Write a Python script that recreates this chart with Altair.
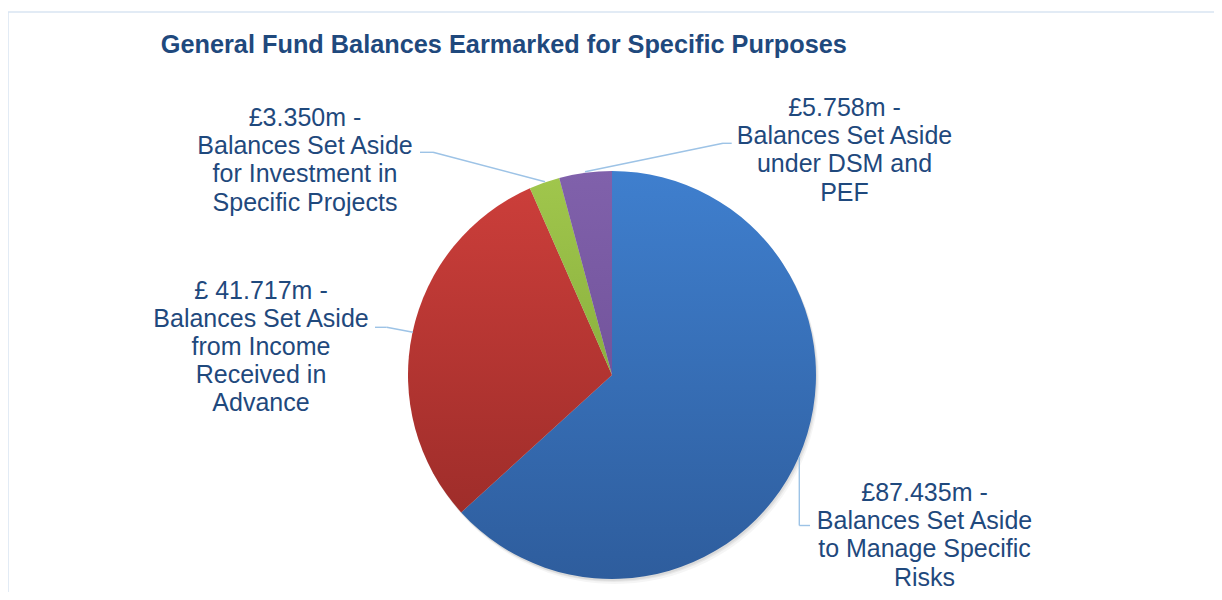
import math
import altair as alt
import pandas as pd

# ---- data ----
slice_order = [0, 1, 2, 3]
values = [87.435, 41.717, 3.350, 5.758]
value_labels = ["£87.435m -", "£ 41.717m -", "£3.350m -", "£5.758m -"]
label_lines = [
    ["Balances Set Aside", "to Manage Specific", "Risks"],
    ["Balances Set Aside", "from Income", "Received in", "Advance"],
    ["Balances Set Aside", "for Investment in", "Specific Projects"],
    ["Balances Set Aside", "under DSM and", "PEF"],
]
title_text = "General Fund Balances Earmarked for Specific Purposes"

# ---- styles ----
FONT = "Liberation Sans"
TEXT_COLOR = "#1F497D"
LEADER = "#9DC3E6"
BORDER = "#D9E4F2"
W, H = 1206, 584
CX, CY, R = 604, 367, 204

gradients = [
    ("#3F7FCE", "#2E5D9D"),
    ("#CB3E3A", "#9F2D2A"),
    ("#A0C64C", "#8BB13F"),
    ("#8061AB", "#73549C"),
]

df = pd.DataFrame({"idx": slice_order, "value": values})

base = (
    alt.Chart(df)
    .transform_joinaggregate(total="sum(value)")
    .transform_window(cum="sum(value)", sort=[alt.SortField("idx")], frame=[None, 0])
    .transform_calculate(
        a0="(datum.cum - datum.value) / datum.total * 2 * PI",
        a1="datum.cum / datum.total * 2 * PI",
    )
)

layers = []

# soft shadow
for dx, dy, op in [(1, 2, 0.06), (2, 3, 0.05), (3, 5, 0.04)]:
    layers.append(
        base.mark_arc(fill="#000000", fillOpacity=op, outerRadius=R, stroke=None)
        .encode(
            theta=alt.Theta("a0:Q", scale=None),
            theta2="a1:Q",
            x=alt.value(CX + dx),
            y=alt.value(CY + dy),
        )
    )

for i, (c0, c1) in enumerate(gradients):
    grad = alt.LinearGradient(
        gradient="linear",
        x1=0, y1=0, x2=0, y2=1,
        stops=[alt.GradientStop(offset=0, color=c0), alt.GradientStop(offset=1, color=c1)],
    )
    layers.append(
        base.transform_filter(f"datum.idx == {i}")
        .mark_arc(fill=grad, outerRadius=R, stroke=None)
        .encode(
            theta=alt.Theta("a0:Q", scale=None),
            theta2="a1:Q",
            x=alt.value(CX),
            y=alt.value(CY),
        )
    )

one = pd.DataFrame({"k": [0]})

# leader lines: list of polylines (style / layout)
leaders = [
    [(791.3, 448.7), (791.3, 517.5), (802, 517.5)],
    [(367, 319.3), (378.7, 319.3), (405, 324.3)],
    [(412, 144.3), (425, 144.3), (537, 173.7)],
    [(577, 163.7), (715, 135.3), (723.7, 135.3)],
]
for pts in leaders:
    for (xa, ya), (xb, yb) in zip(pts[:-1], pts[1:]):
        layers.append(
            alt.Chart(one)
            .mark_rule(color=LEADER, strokeWidth=1.4)
            .encode(x=alt.value(xa), y=alt.value(ya), x2=alt.value(xb), y2=alt.value(yb))
        )

# labels (first-line baseline positions)
label_pos = [(916.5, 493), (253, 290.5), (297, 118), (836.5, 108)]
for i, (lx, ly) in enumerate(label_pos):
    lines = [value_labels[i]] + label_lines[i]
    layers.append(
        alt.Chart(one)
        .mark_text(
            text=lines,
            font=FONT,
            fontSize=25,
            lineHeight=28.2,
            color=TEXT_COLOR,
            align="center",
            baseline="alphabetic",
        )
        .encode(x=alt.value(lx), y=alt.value(ly))
    )

# title
layers.append(
    alt.Chart(one)
    .mark_text(
        text=title_text,
        font=FONT,
        fontSize=25.3,
        fontWeight="bold",
        color=TEXT_COLOR,
        align="center",
        baseline="alphabetic",
    )
    .encode(x=alt.value(495.8), y=alt.value(45.3))
)

# border
layers.append(
    alt.Chart(one)
    .mark_rule(color=BORDER, strokeWidth=1.5)
    .encode(x=alt.value(0), x2=alt.value(W), y=alt.value(4), y2=alt.value(4))
)
layers.append(
    alt.Chart(one)
    .mark_rule(color=BORDER, strokeWidth=1.5)
    .encode(x=alt.value(0), x2=alt.value(0), y=alt.value(4), y2=alt.value(H))
)

chart = (
    alt.layer(*layers)
    .properties(width=W, height=H, autosize="none", padding=0)
    .configure_view(stroke=None)
)

chart.save("out.html", embed_options={"renderer": "svg", "actions": False})
